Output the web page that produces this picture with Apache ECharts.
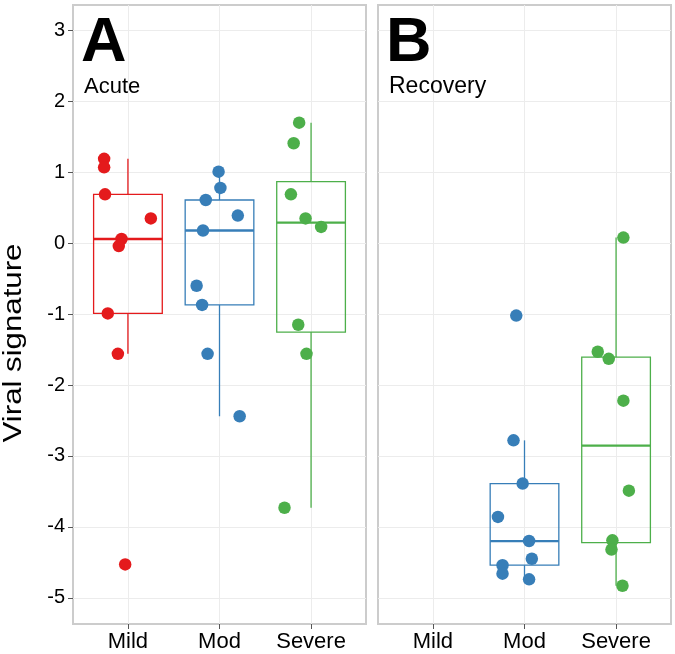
<!DOCTYPE html>
<html><head><meta charset="utf-8">
<script src="https://cdn.jsdelivr.net/npm/echarts@6/dist/echarts.min.js"></script>
<style>html,body{margin:0;padding:0;background:#fff}#c{width:675px;height:654px}</style>
</head><body><div id="c"></div>
<script>
const categories = ['Mild', 'Mod', 'Severe'];
const yTicks = [-5, -4, -3, -2, -1, 0, 1, 2, 3];
const panelTitles = ['Acute', 'Recovery'];
const panelLetters = ['A', 'B'];
const groupColors = ['#E41A1C', '#377EB8', '#4DAF4A'];

// Acute (panel A) values and horizontal jitter (category units)
const acuteMild = [1.19, 1.07, 0.69, 0.35, 0.06, -0.04, -0.99, -1.56, -4.53];
const acuteMildJitter = [-0.26, -0.26, -0.25, 0.25, -0.07, -0.10, -0.22, -0.11, -0.03];
const acuteMod = [1.01, 0.78, 0.61, 0.39, 0.18, -0.60, -0.87, -1.56, -2.44];
const acuteModJitter = [-0.01, 0.01, -0.15, 0.20, -0.18, -0.25, -0.19, -0.13, 0.22];
const acuteSevere = [1.70, 1.41, 0.69, 0.35, 0.23, -1.15, -1.56, -3.73];
const acuteSevereJitter = [-0.13, -0.19, -0.22, -0.06, 0.11, -0.14, -0.05, -0.29];

// Recovery (panel B)
const recMild = [];
const recMildJitter = [];
const recMod = [-1.02, -2.78, -3.39, -3.86, -4.20, -4.45, -4.54, -4.66, -4.74];
const recModJitter = [-0.09, -0.12, -0.02, -0.29, 0.05, 0.08, -0.24, -0.24, 0.05];
const recSevere = [0.08, -1.53, -1.63, -2.22, -3.49, -4.19, -4.32, -4.83];
const recSevereJitter = [0.08, -0.20, -0.08, 0.08, 0.14, -0.04, -0.05, 0.07];

const panels = [
  [[acuteMild, acuteMildJitter], [acuteMod, acuteModJitter], [acuteSevere, acuteSevereJitter]],
  [[recMild, recMildJitter], [recMod, recModJitter], [recSevere, recSevereJitter]]
];

function quantile(sorted, p) {
  const h = (sorted.length - 1) * p;
  const lo = Math.floor(h);
  const hi = Math.min(lo + 1, sorted.length - 1);
  return sorted[lo] + (h - lo) * (sorted[hi] - sorted[lo]);
}
function boxStats(vals) {
  const s = vals.slice().sort((a, b) => a - b);
  const q1 = quantile(s, 0.25), med = quantile(s, 0.5), q3 = quantile(s, 0.75);
  const iqr = q3 - q1;
  const lw = Math.min(...s.filter(v => v >= q1 - 1.5 * iqr));
  const hw = Math.max(...s.filter(v => v <= q3 + 1.5 * iqr));
  return [lw, q1, med, q3, hw];
}

function renderBox(params, api) {
  const x = api.value(0), lw = api.value(1), q1 = api.value(2), md = api.value(3), q3 = api.value(4), hw = api.value(5);
  const half = 0.375;
  const tl = api.coord([x - half, q3]), br = api.coord([x + half, q1]);
  const ml = api.coord([x - half, md]), mr = api.coord([x + half, md]);
  const pHi = api.coord([x, hw]), pQ3 = api.coord([x, q3]), pQ1 = api.coord([x, q1]), pLo = api.coord([x, lw]);
  const color = api.visual('color');
  return {
    type: 'group',
    children: [
      { type: 'line', shape: { x1: pHi[0], y1: pHi[1], x2: pQ3[0], y2: pQ3[1] }, style: { stroke: color, lineWidth: 1.3 } },
      { type: 'line', shape: { x1: pQ1[0], y1: pQ1[1], x2: pLo[0], y2: pLo[1] }, style: { stroke: color, lineWidth: 1.3 } },
      { type: 'rect', shape: { x: tl[0], y: tl[1], width: br[0] - tl[0], height: br[1] - tl[1] }, style: { fill: 'rgba(255,255,255,0)', stroke: color, lineWidth: 1.3 } },
      { type: 'line', shape: { x1: ml[0], y1: ml[1], x2: mr[0], y2: mr[1] }, style: { stroke: color, lineWidth: 2.3 } }
    ]
  };
}

const gridDefs = [
  { left: 73, top: 5, width: 293, height: 619 },
  { left: 378, top: 5, width: 293, height: 619 }
];
const yMin = -5.37, yMax = 3.36;
const fontFam = '"Liberation Sans", Arial, Helvetica, sans-serif';

const grids = [], xAxes = [], yAxes = [], series = [], graphics = [];
gridDefs.forEach((g, pi) => {
  grids.push(Object.assign({ show: true, borderColor: '#cccccc', borderWidth: 2, backgroundColor: '#ffffff', containLabel: false }, g));
  xAxes.push({
    type: 'value', gridIndex: pi, min: 0.4, max: 3.6, position: 'bottom',
    axisLine: { show: false, onZero: false },
    axisTick: { show: true, customValues: [1, 2, 3], length: 5, lineStyle: { color: '#555', width: 1 } },
    axisLabel: { show: true, customValues: [1, 2, 3], formatter: v => categories[Math.round(v) - 1], fontSize: 22, color: '#000', margin: 7, fontFamily: fontFam },
    splitLine: { show: true, lineStyle: { color: '#ececec', width: 1 } }
  });
  yAxes.push({
    type: 'value', gridIndex: pi, min: yMin, max: yMax, position: 'left',
    axisLine: { show: false, onZero: false },
    axisTick: { show: pi === 0, customValues: yTicks, length: 5, lineStyle: { color: '#555', width: 1 } },
    axisLabel: { show: pi === 0, customValues: yTicks, fontSize: 20, color: '#000', margin: 8, fontFamily: fontFam },
    splitLine: { show: true, lineStyle: { color: '#ececec', width: 1 } }
  });
  panels[pi].forEach(([vals, jit], ci) => {
    if (!vals.length) return;
    const st = boxStats(vals);
    series.push({
      type: 'custom', xAxisIndex: pi, yAxisIndex: pi, renderItem: renderBox,
      itemStyle: { color: groupColors[ci] },
      encode: { x: 0, y: [1, 2, 3, 4, 5] },
      data: [[ci + 1].concat(st)], z: 2, silent: true
    });
    series.push({
      type: 'scatter', xAxisIndex: pi, yAxisIndex: pi,
      symbol: 'circle', symbolSize: 12.5,
      itemStyle: { color: groupColors[ci], opacity: 1 },
      data: vals.map((v, k) => [ci + 1 + jit[k], v]), z: 3, silent: true
    });
  });
  graphics.push({
    type: 'text', x: g.left + 8, y: 44, z: 10,
    style: { text: panelLetters[pi], font: 'bold 63px ' + fontFam, fill: '#000', verticalAlign: 'middle', align: 'left' }
  });
  graphics.push({
    type: 'text', x: g.left + 11, y: 87, z: 10,
    style: { text: panelTitles[pi], font: (pi === 0 ? 22 : 23) + 'px ' + fontFam, fill: '#000', verticalAlign: 'middle', align: 'left' }
  });
});
graphics.push({
  type: 'text', x: 14, y: 343, rotation: Math.PI / 2, scaleX: 1.2, z: 10,
  style: { text: 'Viral signature', font: '26px ' + fontFam, fill: '#000', verticalAlign: 'middle', align: 'center' }
});

const chart = echarts.init(document.getElementById('c'), null, { renderer: 'canvas' });
chart.setOption({
  animation: false,
  backgroundColor: '#ffffff',
  grid: grids, xAxis: xAxes, yAxis: yAxes, series: series, graphic: graphics
});
</script></body></html>
